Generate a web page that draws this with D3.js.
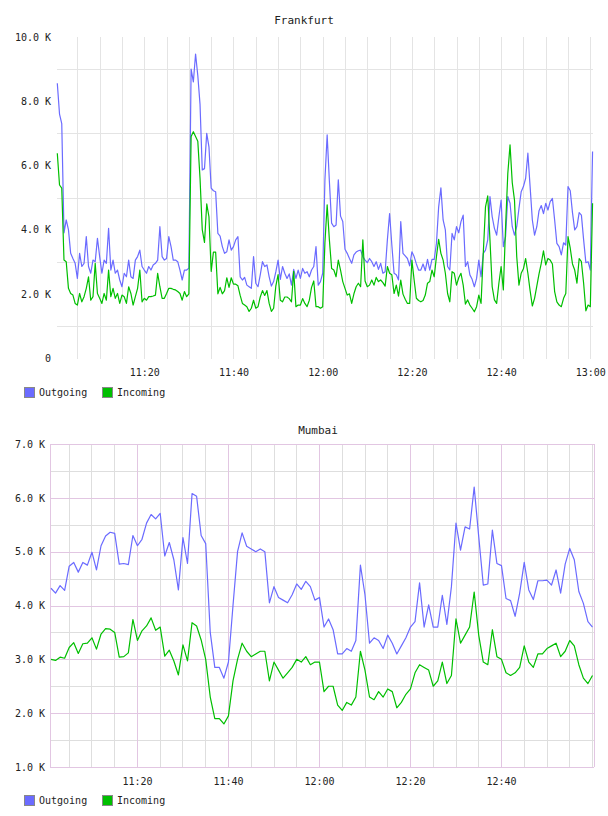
<!DOCTYPE html>
<html>
<head>
<meta charset="utf-8">
<script src="https://cdn.jsdelivr.net/npm/d3@7"></script>
<style>
  body { margin: 0; background: #fff; }
  text { font-family: "DejaVu Sans Mono", monospace; fill: #222; }
</style>
</head>
<body>
<div id="wrapper"></div>
<script>
// Frankfurt: one sample every 30 s from 11:00:30, values in K
const frankfurtOutgoing = [
  8.56, 7.6, 7.3, 3.9, 4.3, 4.0, 3.26, 3.1, 2.95, 2.48,
  3.26, 2.85, 2.95, 3.78, 2.85, 2.64, 3.05, 3.0, 3.73, 3.16,
  2.64, 3.05, 2.95, 4.04, 2.74, 3.05, 2.64, 2.74, 2.43, 2.22,
  2.64, 2.53, 3.05, 2.53, 2.48, 3.05, 3.16, 3.36, 2.85, 2.74,
  2.64, 2.85, 2.74, 2.9, 2.95, 3.05, 4.09, 3.16, 3.05, 3.1,
  3.78, 3.47, 3.05, 3.05, 3.0, 2.74, 2.43, 2.74, 2.74, 2.8,
  9.0, 8.6, 9.47, 8.8, 7.9, 5.86, 5.9, 7.0, 6.58, 5.29,
  5.21, 5.18, 3.88, 3.8, 3.47, 3.26, 3.31, 3.68, 3.36, 3.47,
  3.68, 3.78, 2.53, 2.43, 2.51, 2.27, 2.22, 2.17, 3.16, 2.33,
  2.22, 2.59, 3.0, 2.85, 2.9, 2.53, 2.24, 2.38, 2.69, 3.05,
  2.45, 2.85, 2.64, 2.48, 2.62, 2.27, 2.76, 2.48, 2.74, 2.48,
  2.79, 2.64, 2.69, 2.53, 2.74, 2.85, 3.47, 2.27, 2.38, 2.64,
  5.55,
  6.95, 5.5, 4.2, 4.09, 4.14, 5.55, 4.42, 4.25, 3.39, 3.26,
  3.1, 2.95, 3.21, 3.3, 3.34, 3.36, 3.16, 3.05, 2.97, 3.1,
  3.0, 2.85, 3.0, 2.76, 2.95, 2.64, 2.69, 3.68, 4.5, 3.52,
  2.64, 2.59, 2.43, 4.25, 3.26, 3.18, 3.1, 2.87, 3.31, 3.16,
  2.93, 2.74, 2.74, 2.93, 2.72, 3.07, 2.74, 3.07, 3.07, 3.57,
  4.71, 5.3, 4.3, 3.99, 2.85, 2.74, 3.88, 3.68, 4.09,
  3.9, 4.25, 4.45, 2.85, 3.0, 2.59, 2.45, 2.22, 2.48, 3.05,
  2.53, 3.26, 3.36, 3.68, 5.03, 4.4, 4.04, 3.83, 4.4, 4.92,
  3.47, 3.78, 5.03, 4.82, 4.09, 3.83, 4.09, 4.66, 5.18, 5.34,
  5.6, 6.38, 5.34, 4.3, 3.83, 4.09, 4.59, 4.75, 4.5, 4.82,
  4.61, 4.87, 4.97, 4.3, 3.57, 3.47, 3.21, 3.59, 3.52, 5.34,
  5.21, 4.53, 3.99, 4.09, 4.53, 4.45, 3.68, 2.97, 3.0, 2.74, 6.43
];
const frankfurtIncoming = [
  6.38, 5.39, 5.29, 3.05, 3.0, 2.17, 2.01, 1.96, 1.70, 1.65,
  2.01, 1.75, 1.91, 2.17, 2.53, 1.8, 1.91, 2.95, 2.01, 1.86,
  1.70, 2.01, 1.8, 2.74, 1.91, 2.17, 1.86, 2.01, 1.70, 1.96,
  1.91, 1.70, 2.22, 2.01, 1.65, 1.91, 2.17, 2.74, 1.75, 1.86,
  1.8, 1.91, 1.91, 1.93, 1.96, 2.64, 2.22, 1.86, 1.86, 2.01,
  2.17, 2.17, 2.14, 2.12, 2.07, 2.01, 1.8, 2.07, 1.91, 2.0,
  6.9, 7.05, 6.9, 6.75, 5.6, 4.0, 3.6, 4.8, 4.4, 2.7,
  3.3, 3.3, 2.0, 2.2, 2.0, 2.1, 2.5, 2.2, 2.5, 2.3,
  2.3, 2.25, 1.95, 1.7, 1.65, 1.6, 1.45, 1.55, 1.8, 1.55,
  1.6, 1.9, 2.1, 1.95, 2.1, 1.7, 1.45, 1.55, 2.25, 2.6,
  1.8, 1.75, 1.9, 1.9, 1.85, 1.75, 2.7, 1.6, 1.65, 1.65,
  1.85, 1.7, 1.6, 1.8, 2.2, 2.4, 1.6, 1.6, 1.55, 1.6,
  3.6,
  4.77, 3.68, 2.79, 2.74, 2.53, 3.05, 2.74, 2.38, 2.17, 1.96,
  2.0, 1.7, 2.0, 2.22, 2.33, 2.22, 3.68, 2.4, 2.22, 2.27,
  2.43, 2.27, 2.51, 2.38, 2.43, 2.35, 2.24, 2.85, 2.64, 2.59,
  2.01, 2.27, 1.93, 2.43, 1.99, 1.83, 1.7, 1.7, 3.05, 2.43,
  1.86, 1.79, 1.75, 1.79, 1.96, 2.33, 2.38, 2.74, 2.53, 3.16,
  3.7, 3.26, 3.05, 2.64, 2.01, 1.75, 2.69, 2.64, 2.27,
  2.5, 2.64, 2.27, 1.68, 1.81, 1.65, 1.55, 1.44, 1.6, 1.96,
  1.7, 3.26, 4.71, 5.05, 3.68, 2.22, 1.81, 1.7, 2.33, 2.85,
  2.12, 4.09, 5.75, 6.64, 5.46, 4.92, 3.16, 2.27, 2.64, 2.78,
  3.1, 2.64, 2.1, 1.62, 1.86, 2.24, 2.62, 2.95, 3.34, 2.9,
  3.1, 3.05, 2.93, 2.07, 1.75, 1.65, 1.6, 1.86, 2.01, 3.78,
  3.42, 2.93, 2.74, 2.33, 3.1, 3.0, 2.33, 1.47, 1.65, 1.6, 4.82
];

// Mumbai: one sample per minute from 11:01:06, values in K
const mumbaiOutgoing = [
  4.32, 4.23, 4.37, 4.28, 4.73, 4.80, 4.62, 4.80, 4.75, 4.99,
  4.66, 5.11, 5.29, 5.36, 5.34, 4.77, 4.78, 4.76, 5.30, 5.11,
  5.23, 5.53, 5.69, 5.61, 5.71, 4.92, 5.17, 4.85, 4.29, 5.26,
  4.78, 6.08, 6.03,
  5.3, 5.15, 3.5, 2.85, 2.85, 2.65, 2.95, 4.0, 5.0, 5.35,
  5.1, 5.05, 5.0, 5.05, 5.0, 4.05, 4.35, 4.15, 4.1, 4.05,
  4.2, 4.4, 4.3, 4.45, 4.35, 4.1, 4.15, 3.6, 3.75, 3.55,
  3.1, 3.1, 3.2, 3.15, 3.35, 4.75, 4.2, 3.3, 3.4, 3.35,
  3.2, 3.45, 3.3, 3.1, 3.25, 3.4, 3.6,
  3.7, 4.42, 3.6, 4.01, 3.6, 3.6, 4.19, 3.65, 4.35, 5.53,
  5.03, 5.46, 5.42, 6.2, 5.28, 4.38, 4.40, 5.40, 4.78, 4.74,
  4.13, 4.09, 3.8, 4.23, 4.80, 4.29, 4.11, 4.46, 4.46, 4.47,
  4.38, 4.66, 4.23, 4.77, 5.06, 4.85, 4.26, 4.04, 3.7, 3.6
];
const mumbaiIncoming = [
  3.0, 2.98, 3.04, 3.02, 3.22, 3.31, 3.11, 3.29, 3.30, 3.40,
  3.19, 3.47, 3.57, 3.56, 3.50, 3.04, 3.05, 3.12, 3.74, 3.35,
  3.53, 3.62, 3.77, 3.54, 3.60, 3.06, 3.17, 2.97, 2.71, 3.27,
  2.97, 3.68, 3.62,
  3.36, 3.0, 2.3, 1.9, 1.9, 1.8, 1.95, 2.6, 3.0, 3.3,
  3.15, 3.05, 3.1, 3.15, 3.15, 2.6, 2.95, 2.8, 2.65, 2.75,
  2.85, 3.0, 2.95, 3.05, 2.9, 2.95, 2.95, 2.4, 2.5, 2.5,
  2.15, 2.05, 2.2, 2.15, 2.3, 3.15, 2.8, 2.3, 2.25, 2.4,
  2.3, 2.45, 2.4, 2.1, 2.2, 2.35, 2.45,
  2.75, 2.9, 2.85, 2.8, 2.5, 2.6, 2.95, 2.55, 2.7, 3.75,
  3.3, 3.45, 3.6, 4.25, 3.45, 2.95, 2.9, 3.55, 3.05, 3.0,
  2.75, 2.7, 2.75, 2.85, 3.25, 2.95, 2.85, 3.1, 3.1, 3.2,
  3.25, 3.3, 3.05, 3.15, 3.35, 3.25, 2.9, 2.65, 2.55, 2.7
];

const seriesNames = ["Outgoing", "Incoming"];
const seriesColors = ["#6b6bff", "#00bf00"];
const xTickLabels = ["11:20", "11:40", "12:00", "12:20", "12:40", "13:00"];

const t = (h, m, s) => new Date(2024, 0, 1, h, m, s);

function drawChart(svg, cfg) {
  const { title, titleX, titleY, left, right, top, bottom, yDomain, start, end,
          firstSample, stepSec, series, yLabels, majorY, minorY,
          xLabels, majorX, minorX, majorColor, minorColor, border,
          labelPad, legendY } = cfg;

  const xScale = d3.scaleTime().domain([start, end]).range([left, right]);
  const yScale = d3.scaleLinear().domain(yDomain).range([bottom, top]);

  const g = svg.append("g");

  // grid
  const grid = g.append("g").attr("shape-rendering", "crispEdges");
  grid.selectAll(".hminor").data(minorY).join("line")
    .attr("x1", left).attr("x2", right)
    .attr("y1", d => Math.round(yScale(d)) + 0.5).attr("y2", d => Math.round(yScale(d)) + 0.5)
    .attr("stroke", minorColor);
  grid.selectAll(".vminor").data(minorX).join("line")
    .attr("x1", d => Math.round(xScale(d)) + 0.5).attr("x2", d => Math.round(xScale(d)) + 0.5)
    .attr("y1", top).attr("y2", bottom + 1)
    .attr("stroke", minorColor);
  grid.selectAll(".hmajor").data(majorY).join("line")
    .attr("x1", left).attr("x2", right)
    .attr("y1", d => Math.round(yScale(d)) + 0.5).attr("y2", d => Math.round(yScale(d)) + 0.5)
    .attr("stroke", majorColor);
  grid.selectAll(".vmajor").data(majorX).join("line")
    .attr("x1", d => Math.round(xScale(d)) + 0.5).attr("x2", d => Math.round(xScale(d)) + 0.5)
    .attr("y1", top).attr("y2", bottom + 1)
    .attr("stroke", majorColor);
  if (border) {
    grid.append("line")
      .attr("x1", left + 0.5).attr("x2", left + 0.5)
      .attr("y1", top).attr("y2", bottom)
      .attr("stroke", majorColor);
    grid.append("line")
      .attr("x1", right + 0.5).attr("x2", right + 0.5)
      .attr("y1", top).attr("y2", bottom)
      .attr("stroke", majorColor);
  }

  // lines
  const line = d3.line()
    .x((d, i) => xScale(new Date(firstSample.getTime() + i * stepSec * 1000)))
    .y(d => yScale(d));

  series.forEach((values, si) => {
    g.append("path")
      .datum(values)
      .attr("fill", "none")
      .attr("stroke", seriesColors[si])
      .attr("stroke-width", 1.2)
      .attr("stroke-linejoin", "round")
      .attr("d", line);
  });

  // y labels
  const yAxis = g.append("g")
    .attr("transform", `translate(${left},0)`)
    .call(d3.axisLeft(yScale)
      .tickValues(yLabels)
      .tickSize(0)
      .tickPadding(labelPad)
      .tickFormat(d => d === 0 ? "0" : d3.format(".1f")(d) + " K"));
  yAxis.select(".domain").remove();
  yAxis.selectAll("text")
    .attr("font-family", "DejaVu Sans Mono")
    .attr("font-size", 10)
    .attr("fill", "#222");

  // x labels
  const xAxis = g.append("g")
    .attr("transform", `translate(0,${bottom})`)
    .call(d3.axisBottom(xScale)
      .tickValues(xLabels)
      .tickSize(0)
      .tickPadding(11)
      .tickFormat(d3.timeFormat("%H:%M")));
  xAxis.select(".domain").remove();
  xAxis.selectAll("text")
    .attr("font-family", "DejaVu Sans Mono")
    .attr("font-size", 10)
    .attr("fill", "#222");

  // title
  g.append("text")
    .attr("x", titleX)
    .attr("y", titleY)
    .attr("text-anchor", "middle")
    .attr("font-size", 11)
    .text(title);

  // legend
  const legend = g.append("g")
    .attr("transform", `translate(24,${legendY})`);
  const items = legend.selectAll("g")
    .data(seriesNames)
    .join("g")
      .attr("transform", (d, i) => `translate(${i * 78},0)`);
  items.append("rect")
    .attr("x", 0.5).attr("y", 0.5)
    .attr("width", 10).attr("height", 10)
    .attr("fill", (d, i) => seriesColors[i])
    .attr("stroke", "#888");
  items.append("text")
    .attr("x", 15)
    .attr("y", 9)
    .attr("font-size", 10)
    .text(d => d);
}

function everyMinutes(from, to, step) {
  const out = [];
  for (let d = from; d <= to; d = new Date(d.getTime() + step * 60000)) out.push(d);
  return out;
}

const parseHM = d3.timeParse("%H:%M");
const labelTime = s => { const p = parseHM(s); return t(p.getHours(), p.getMinutes(), 0); };

const svg = d3.select("#wrapper")
  .append("svg")
    .attr("width", 608)
    .attr("height", 816);

drawChart(svg, {
  title: "Frankfurt",
  titleX: 304, titleY: 24,
  left: 57, right: 593, top: 37, bottom: 358,
  yDomain: [0, 10],
  start: t(11, 0, 26), end: t(13, 0, 36),
  firstSample: t(11, 0, 30), stepSec: 30,
  series: [frankfurtOutgoing, frankfurtIncoming],
  yLabels: [0, 2, 4, 6, 8, 10],
  majorY: [1, 3, 5, 7, 9],
  minorY: [],
  xLabels: xTickLabels.map(labelTime),
  majorX: [],
  minorX: everyMinutes(t(11, 5, 0), t(13, 0, 0), 5),
  majorColor: "#e4e4e4", minorColor: "#e4e4e4",
  border: false,
  labelPad: 6,
  legendY: 387
});

drawChart(svg, {
  title: "Mumbai",
  titleX: 318, titleY: 434,
  left: 50, right: 594, top: 444, bottom: 767,
  yDomain: [1, 7],
  start: t(11, 0, 53), end: t(13, 0, 26),
  firstSample: t(11, 1, 6), stepSec: 60,
  series: [mumbaiOutgoing, mumbaiIncoming],
  yLabels: [1, 2, 3, 4, 5, 6, 7],
  majorY: [1, 2, 3, 4, 5, 6, 7],
  minorY: [1.5, 2.5, 3.5, 4.5, 5.5, 6.5],
  xLabels: xTickLabels.slice(0, 5).map(labelTime),
  majorX: everyMinutes(t(11, 20, 0), t(12, 40, 0), 20),
  minorX: everyMinutes(t(11, 5, 0), t(13, 0, 0), 5),
  majorColor: "#e2c6e2", minorColor: "#dedede",
  border: true,
  labelPad: 5,
  legendY: 795
});
</script>
</body>
</html>
